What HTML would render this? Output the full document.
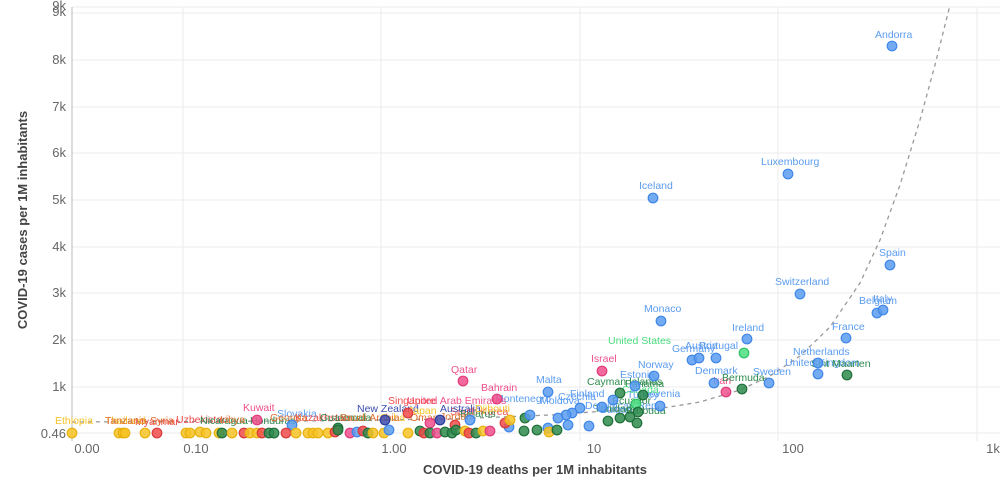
<!DOCTYPE html>
<html><head><meta charset="utf-8"><style>
body{margin:0;background:#fff;}
svg{display:block;font-family:"Liberation Sans",sans-serif;}
.g{stroke:#ebebeb;stroke-width:1}
.t{font-size:13px;fill:#666}
.l{font-size:10.5px}
circle{stroke-width:1.2;fill-opacity:.85}
.b{fill:#5b9cf0;stroke:#3f86e8}.p{fill:#f0508c;stroke:#e03b7a}.r{fill:#f04b4b;stroke:#d83a3a}
.y{fill:#f7c325;stroke:#e8b10f}.d{fill:#2e8b4e;stroke:#1f6e3a}.lg{fill:#4ade80;stroke:#2fc465}.n{fill:#3d4db0;stroke:#2d3c98}
</style></head><body>
<svg width="1000" height="491" viewBox="0 0 1000 491">
<g class="g">
<line x1="72" y1="7" x2="1000" y2="7"/><line x1="72" y1="13" x2="1000" y2="13"/>
<line x1="72" y1="60" x2="1000" y2="60"/><line x1="72" y1="107" x2="1000" y2="107"/>
<line x1="72" y1="153" x2="1000" y2="153"/><line x1="72" y1="200" x2="1000" y2="200"/>
<line x1="72" y1="247" x2="1000" y2="247"/><line x1="72" y1="293" x2="1000" y2="293"/>
<line x1="72" y1="340" x2="1000" y2="340"/><line x1="72" y1="387" x2="1000" y2="387"/>
<line x1="72" y1="433" x2="1000" y2="433"/>
<line x1="183" y1="7" x2="183" y2="441"/><line x1="381" y1="7" x2="381" y2="441"/>
<line x1="580" y1="7" x2="580" y2="441"/><line x1="778" y1="7" x2="778" y2="441"/><line x1="977" y1="7" x2="977" y2="441"/>
</g>
<line x1="72" y1="7" x2="72" y2="441" stroke="#bbb"/>
<g class="t" text-anchor="end">
<text x="66" y="10">9k</text><text x="66" y="16">9k</text><text x="66" y="64">8k</text><text x="66" y="111">7k</text>
<text x="66" y="157">6k</text><text x="66" y="204">5k</text><text x="66" y="251">4k</text><text x="66" y="297">3k</text>
<text x="66" y="344">2k</text><text x="66" y="391">1k</text><text x="66" y="438">0.46</text>
</g>
<g class="t" text-anchor="middle">
<text x="87" y="453">0.00</text><text x="196" y="453">0.10</text><text x="394" y="453">1.00</text>
<text x="594" y="453">10</text><text x="793" y="453">100</text><text x="993" y="453">1k</text>
</g>
<text x="535" y="474" text-anchor="middle" style="font-size:13px;font-weight:bold;fill:#444">COVID-19 deaths per 1M inhabitants</text>
<text transform="translate(27,220) rotate(-90)" text-anchor="middle" style="font-size:13px;font-weight:bold;fill:#444">COVID-19 cases per 1M inhabitants</text>
<polyline fill="none" stroke="#999" stroke-width="1.3" stroke-dasharray="4,4" points="72,422 300,421 450,419 550,415 620,410 663,408 700,402 740,390 770,376 800,356 830,327 860,283 880,240 900,185 920,120 935,65 950,5"/>
<g class="l">
<g fill="#5b9cf0">
<text x="875" y="38">Andorra</text><text x="761" y="165">Luxembourg</text><text x="639" y="189">Iceland</text>
<text x="879" y="256">Spain</text><text x="775" y="285">Switzerland</text><text x="873" y="302">Italy</text><text x="859" y="304">Belgium</text>
<text x="644" y="312">Monaco</text><text x="832" y="330">France</text><text x="732" y="331">Ireland</text>
<text x="672" y="352">Germany</text><text x="685" y="349">Austria</text><text x="699" y="349">Portugal</text>
<text x="793" y="355">Netherlands</text><text x="785" y="366">United Kingdom</text><text x="638" y="368">Norway</text>
<text x="753" y="375">Sweden</text><text x="695" y="374">Denmark</text><text x="620" y="378">Estonia</text><text x="536" y="383">Malta</text>
<text x="558" y="400">Czechia</text><text x="570" y="397">Finland</text><text x="627" y="398">Turkey</text><text x="640" y="397">Slovenia</text>
<text x="277" y="417">Slovakia</text><text x="495" y="402">Montenegro</text><text x="540" y="404">Moldova</text>
<text x="585" y="409">Dominican Rep.</text><text x="600" y="413">Bulgaria</text>
</g>
<g fill="#f0508c"><text x="451" y="373">Qatar</text><text x="481" y="391">Bahrain</text><text x="591" y="362">Israel</text><text x="713" y="384">Iran</text><text x="243" y="411">Kuwait</text><text x="407" y="404">United Arab Emirates</text></g>
<g fill="#f04b4b"><text x="388" y="404">Singapore</text><text x="450" y="415">South Korea</text><text x="135" y="425">Myanmar</text><text x="176" y="423">Uzbekistan</text><text x="295" y="421">Kazakhstan</text></g>
<g fill="#2e8b4e"><text x="722" y="381">Bermuda</text><text x="811" y="367">Sint Maarten</text><text x="587" y="385">Cayman Islands</text><text x="625" y="387">Panama</text><text x="612" y="404">Ecuador</text><text x="626" y="414">Barbuda</text><text x="594" y="412">Trinidad</text><text x="460" y="417">Belarus</text><text x="200" y="424">Nicaragua</text><text x="250" y="424">Honduras</text><text x="320" y="421">Guatemala</text></g>
<text x="608" y="344" fill="#4ade80">United States</text><text x="622" y="393" fill="#4ade80">Canada</text>
<text x="357" y="412" fill="#3d4db0">New Zealand</text><text x="440" y="412" fill="#3d4db0">Australia</text>
<g fill="#f7c325"><text x="55" y="424">Ethiopia</text><text x="105" y="424">Thailand</text><text x="408" y="414">Japan</text><text x="475" y="412">Djibouti</text><text x="380" y="421">Cuba</text></g>
<g fill="#e07030"><text x="105" y="424">Tanzania</text><text x="150" y="424">Syria</text><text x="220" y="423">Libya</text><text x="270" y="421">Georgia</text><text x="340" y="421">Saudi Arabia</text><text x="410" y="421">Oman</text><text x="440" y="420">Jordan</text></g>
</g>
<g>
<circle class="b" cx="892" cy="46" r="4.8"/><circle class="b" cx="788" cy="174" r="4.8"/><circle class="b" cx="653" cy="198" r="4.8"/>
<circle class="b" cx="890" cy="265" r="4.8"/><circle class="b" cx="800" cy="294" r="4.8"/><circle class="b" cx="877" cy="313" r="4.8"/><circle class="b" cx="883" cy="310" r="4.8"/>
<circle class="b" cx="661" cy="321" r="4.8"/><circle class="b" cx="846" cy="338" r="4.8"/><circle class="b" cx="747" cy="339" r="4.8"/>
<circle class="lg" cx="744" cy="353" r="4.8"/><circle class="b" cx="692" cy="360" r="4.8"/><circle class="b" cx="699" cy="358" r="4.8"/><circle class="b" cx="716" cy="358" r="4.8"/>
<circle class="b" cx="818" cy="363" r="4.8"/><circle class="b" cx="818" cy="374" r="4.8"/><circle class="d" cx="847" cy="375" r="4.8"/>
<circle class="p" cx="602" cy="371" r="4.8"/><circle class="b" cx="654" cy="376" r="4.8"/><circle class="b" cx="769" cy="383" r="4.8"/><circle class="b" cx="714" cy="383" r="4.8"/>
<circle class="p" cx="726" cy="392" r="4.8"/><circle class="d" cx="742" cy="389" r="4.8"/><circle class="b" cx="635" cy="386" r="4.8"/><circle class="b" cx="548" cy="392" r="4.8"/>
<circle class="d" cx="620" cy="393" r="4.8"/><circle class="d" cx="643" cy="395" r="4.8"/><circle class="b" cx="660" cy="406" r="4.8"/><circle class="b" cx="613" cy="400" r="4.8"/>
<circle class="lg" cx="636" cy="404" r="4.8"/><circle class="d" cx="638" cy="412" r="4.8"/><circle class="b" cx="602" cy="407" r="4.8"/><circle class="b" cx="580" cy="408" r="4.8"/>
<circle class="d" cx="608" cy="421" r="4.8"/><circle class="d" cx="620" cy="418" r="4.8"/><circle class="d" cx="630" cy="417" r="4.8"/><circle class="d" cx="637" cy="423" r="4.8"/><circle class="b" cx="589" cy="426" r="4.8"/>
<circle class="b" cx="572" cy="413" r="4.8"/><circle class="b" cx="566" cy="415" r="4.8"/><circle class="b" cx="558" cy="418" r="4.8"/><circle class="b" cx="568" cy="425" r="4.8"/><circle class="b" cx="548" cy="428" r="4.8"/>
<circle class="d" cx="537" cy="430" r="4.8"/><circle class="y" cx="549" cy="432" r="4.8"/><circle class="d" cx="557" cy="430" r="4.8"/><circle class="b" cx="509" cy="427" r="4.8"/><circle class="d" cx="524" cy="431" r="4.8"/>
<circle class="p" cx="463" cy="381" r="4.8"/><circle class="p" cx="497" cy="399" r="4.8"/>
<circle class="r" cx="505" cy="423" r="4.8"/><circle class="y" cx="510" cy="420" r="4.8"/><circle class="d" cx="525" cy="418" r="4.8"/><circle class="b" cx="530" cy="415" r="4.8"/>
<circle class="p" cx="257" cy="420" r="4.8"/><circle class="r" cx="408" cy="413" r="4.8"/><circle class="n" cx="385" cy="420" r="4.8"/><circle class="b" cx="292" cy="425" r="4.8"/>
<circle class="d" cx="338" cy="428" r="4.8"/><circle class="n" cx="440" cy="420" r="4.8"/><circle class="p" cx="430" cy="423" r="4.8"/><circle class="r" cx="455" cy="425" r="4.8"/><circle class="b" cx="470" cy="420" r="4.8"/>
<circle class="y" cx="72" cy="433" r="4.8"/><circle class="y" cx="119" cy="433" r="4.8"/><circle class="y" cx="123" cy="433" r="4.8"/><circle class="y" cx="125" cy="433" r="4.8"/>
<circle class="y" cx="145" cy="433" r="4.8"/><circle class="r" cx="157" cy="433" r="4.8"/><circle class="y" cx="186" cy="433" r="4.8"/><circle class="y" cx="190" cy="433" r="4.8"/>
<circle class="y" cx="200" cy="432" r="4.8"/><circle class="y" cx="206" cy="433" r="4.8"/><circle class="y" cx="219" cy="433" r="4.8"/><circle class="d" cx="222" cy="433" r="4.8"/><circle class="y" cx="232" cy="433" r="4.8"/>
<circle class="r" cx="244" cy="433" r="4.8"/><circle class="y" cx="250" cy="433" r="4.8"/><circle class="y" cx="257" cy="433" r="4.8"/><circle class="r" cx="262" cy="433" r="4.8"/>
<circle class="d" cx="269" cy="433" r="4.8"/><circle class="d" cx="274" cy="433" r="4.8"/><circle class="r" cx="286" cy="433" r="4.8"/><circle class="y" cx="296" cy="433" r="4.8"/>
<circle class="y" cx="308" cy="433" r="4.8"/><circle class="y" cx="313" cy="433" r="4.8"/><circle class="y" cx="318" cy="433" r="4.8"/><circle class="y" cx="328" cy="433" r="4.8"/>
<circle class="r" cx="335" cy="432" r="4.8"/><circle class="d" cx="338" cy="430" r="4.8"/><circle class="p" cx="350" cy="433" r="4.8"/><circle class="b" cx="357" cy="432" r="4.8"/>
<circle class="r" cx="363" cy="431" r="4.8"/><circle class="d" cx="368" cy="433" r="4.8"/><circle class="y" cx="373" cy="433" r="4.8"/><circle class="y" cx="384" cy="433" r="4.8"/>
<circle class="b" cx="389" cy="430" r="4.8"/><circle class="y" cx="408" cy="433" r="4.8"/><circle class="d" cx="420" cy="431" r="4.8"/><circle class="r" cx="424" cy="433" r="4.8"/>
<circle class="d" cx="430" cy="433" r="4.8"/><circle class="p" cx="437" cy="433" r="4.8"/><circle class="d" cx="445" cy="432" r="4.8"/><circle class="d" cx="452" cy="433" r="4.8"/><circle class="d" cx="456" cy="430" r="4.8"/>
<circle class="y" cx="465" cy="431" r="4.8"/><circle class="r" cx="469" cy="433" r="4.8"/><circle class="d" cx="476" cy="433" r="4.8"/><circle class="y" cx="483" cy="431" r="4.8"/><circle class="p" cx="490" cy="431" r="4.8"/>
</g>
</svg>
</body></html>
